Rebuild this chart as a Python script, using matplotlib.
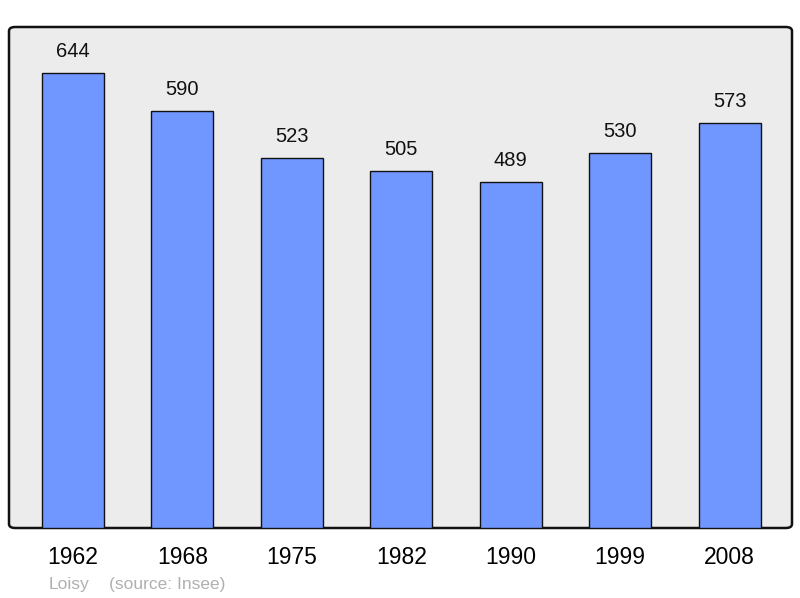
import matplotlib.pyplot as plt
from matplotlib.patches import FancyBboxPatch

plt.rcParams['font.family'] = ['Liberation Sans', 'DejaVu Sans']

years = ['1962', '1968', '1975', '1982', '1990', '1999', '2008']
population = [644, 590, 523, 505, 489, 530, 573]
commune = 'Loisy'
source = '(source: Insee)'

fig = plt.figure(figsize=(8, 5.98), dpi=100)
ax = fig.add_axes([9 / 800, 70 / 598, 783 / 800, 501 / 598])
ax.set_facecolor('none')

# rounded grey frame behind the bars
frame = FancyBboxPatch((0, 0), 1, 1, boxstyle='round,pad=0,rounding_size=0.008',
                       transform=ax.transAxes, facecolor='#ececec',
                       edgecolor='#111111', linewidth=1.8, zorder=0,
                       clip_on=False)
ax.add_patch(frame)

x = list(range(len(years)))
ax.bar(x, population, width=0.567, color='#7097ff', edgecolor='#111111',
       linewidth=1.0, zorder=2)

for xi, v in zip(x, population):
    ax.annotate(str(v), (xi, v), xytext=(0, 15.5), textcoords='offset points',
                ha='center', va='center', fontsize=14.5, color='#111111')

ax.set_xlim(-0.585, 6.57)
ax.set_ylim(0, 709)
ax.set_xticks(x)
ax.set_xticklabels(years, fontsize=16.5)
ax.tick_params(axis='x', length=0, pad=13)
ax.set_yticks([])
for s in ax.spines.values():
    s.set_visible(False)

fig.text(49 / 800, 1 - 584 / 598, commune, fontsize=12.5, color='#b0b0b0',
         va='center', ha='left')
fig.text(109 / 800, 1 - 584 / 598, source, fontsize=12.5, color='#b0b0b0',
         va='center', ha='left')

fig.savefig('out.png', dpi=100)
